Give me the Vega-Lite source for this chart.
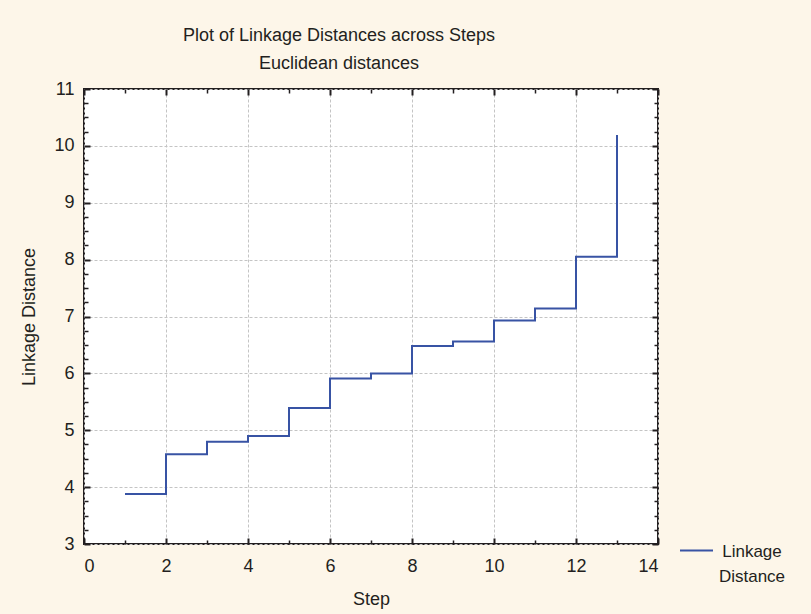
{
  "$schema": "https://vega.github.io/schema/vega-lite/v6.json",
  "width": 574,
  "height": 455,
  "autosize": {"type": "none"},
  "padding": {"left": 84, "top": 89, "right": 153, "bottom": 70},
  "background": "#fdf6e9",
  "title": {
    "text": "Plot of Linkage Distances across Steps",
    "subtitle": "Euclidean distances",
    "anchor": "middle",
    "frame": "group",
    "dx": -32,
    "offset": 7,
    "font": "Liberation Sans",
    "fontSize": 18,
    "fontWeight": "normal",
    "color": "#231f20",
    "subtitleFont": "Liberation Sans",
    "subtitleFontSize": 18,
    "subtitleColor": "#231f20",
    "subtitlePadding": 10
  },
  "config": {
    "view": {"stroke": "#231f20", "strokeWidth": 2, "fill": "white"},
    "axis": {
      "domain": false,
      "labelFont": "Liberation Sans",
      "labelFontSize": 18,
      "labelColor": "#231f20",
      "titleFont": "Liberation Sans",
      "titleFontSize": 18,
      "titleFontWeight": "normal",
      "titleColor": "#231f20",
      "tickColor": "#231f20",
      "tickWidth": 1.5,
      "gridColor": "#c4c4c4",
      "gridDash": [3, 2],
      "gridWidth": 1
    }
  },
  "data": {
    "values": [
      {"step": 1, "dist": 3.88, "series": "Linkage Distance"},
      {"step": 2, "dist": 4.58, "series": "Linkage Distance"},
      {"step": 3, "dist": 4.80, "series": "Linkage Distance"},
      {"step": 4, "dist": 4.90, "series": "Linkage Distance"},
      {"step": 5, "dist": 5.39, "series": "Linkage Distance"},
      {"step": 6, "dist": 5.91, "series": "Linkage Distance"},
      {"step": 7, "dist": 6.00, "series": "Linkage Distance"},
      {"step": 8, "dist": 6.48, "series": "Linkage Distance"},
      {"step": 9, "dist": 6.56, "series": "Linkage Distance"},
      {"step": 10, "dist": 6.93, "series": "Linkage Distance"},
      {"step": 11, "dist": 7.14, "series": "Linkage Distance"},
      {"step": 12, "dist": 8.05, "series": "Linkage Distance"},
      {"step": 13, "dist": 10.19, "series": "Linkage Distance"}
    ]
  },
  "resolve": {"axis": {"x": "independent", "y": "independent"}},
  "layer": [
    {
      "mark": {"type": "line", "interpolate": "step-after", "strokeWidth": 2},
      "encoding": {
        "x": {
          "field": "step", "type": "quantitative",
          "scale": {"domain": [0, 14], "nice": false, "zero": false},
          "axis": {"orient": "bottom", "values": [0, 2, 4, 6, 8, 10, 12, 14], "ticks": false, "grid": true, "labelPadding": 13, "title": "Step", "titlePadding": 15}
        },
        "y": {
          "field": "dist", "type": "quantitative",
          "scale": {"domain": [3, 11], "nice": false, "zero": false},
          "axis": {"orient": "left", "values": [3, 4, 5, 6, 7, 8, 9, 10, 11], "ticks": false, "grid": true, "labelPadding": 10, "title": "Linkage Distance", "titlePadding": 15}
        },
        "color": {
          "field": "series", "type": "nominal",
          "scale": {"range": ["#3853a4"]},
          "legend": {
            "title": null,
            "orient": "none",
            "legendX": 595,
            "legendY": 444,
            "padding": 0,
            "symbolType": "stroke",
            "symbolSize": 1089,
            "symbolStrokeWidth": 2,
            "labelFont": "Liberation Sans",
            "labelFontSize": 17,
            "labelColor": "#231f20",
            "labelAlign": "center",
            "labelBaseline": "alphabetic",
            "labelOffset": 38,
            "labelLimit": 300,
            "labelExpr": "['Linkage', 'Distance']",
            "encode": {"labels": {"update": {"dy": {"value": 6}, "lineHeight": {"value": 25}}}}
          }
        }
      }
    },
    {
      "mark": {"type": "line", "opacity": 0},
      "encoding": {
        "x": {"field": "step", "type": "quantitative", "scale": {"domain": [0, 14], "nice": false, "zero": false},
          "axis": {"orient": "bottom", "values": [0, 2, 4, 6, 8, 10, 12, 14], "labels": false, "grid": false, "tickSize": -6, "tickWidth": 2, "title": null}},
        "y": {"field": "dist", "type": "quantitative", "scale": {"domain": [3, 11], "nice": false, "zero": false},
          "axis": {"orient": "left", "values": [3, 4, 5, 6, 7, 8, 9, 10, 11], "labels": false, "grid": false, "tickSize": -6, "tickWidth": 2, "title": null}}
      }
    },
    {
      "mark": {"type": "line", "opacity": 0},
      "encoding": {
        "x": {"field": "step", "type": "quantitative", "scale": {"domain": [0, 14], "nice": false, "zero": false},
          "axis": {"orient": "bottom", "values": [1, 3, 5, 7, 9, 11, 13], "labels": false, "grid": false, "tickSize": -4, "title": null}},
        "y": {"field": "dist", "type": "quantitative", "scale": {"domain": [3, 11], "nice": false, "zero": false},
          "axis": {"orient": "left", "values": [3.25, 3.5, 3.75, 4.25, 4.5, 4.75, 5.25, 5.5, 5.75, 6.25, 6.5, 6.75, 7.25, 7.5, 7.75, 8.25, 8.5, 8.75, 9.25, 9.5, 9.75, 10.25, 10.5, 10.75], "labels": false, "grid": false, "tickSize": -4, "title": null}}
      }
    },
    {
      "mark": {"type": "line", "opacity": 0},
      "encoding": {
        "x": {"field": "step", "type": "quantitative", "scale": {"domain": [0, 14], "nice": false, "zero": false},
          "axis": {"orient": "top", "values": [0, 2, 4, 6, 8, 10, 12, 14], "labels": false, "grid": false, "tickSize": -6, "tickWidth": 2, "title": null}},
        "y": {"field": "dist", "type": "quantitative", "scale": {"domain": [3, 11], "nice": false, "zero": false},
          "axis": {"orient": "right", "values": [3, 4, 5, 6, 7, 8, 9, 10, 11], "labels": false, "grid": false, "tickSize": -6, "tickWidth": 2, "title": null}}
      }
    },
    {
      "mark": {"type": "line", "opacity": 0},
      "encoding": {
        "x": {"field": "step", "type": "quantitative", "scale": {"domain": [0, 14], "nice": false, "zero": false},
          "axis": {"orient": "top", "values": [1, 3, 5, 7, 9, 11, 13], "labels": false, "grid": false, "tickSize": -4, "title": null}},
        "y": {"field": "dist", "type": "quantitative", "scale": {"domain": [3, 11], "nice": false, "zero": false},
          "axis": {"orient": "right", "values": [3.25, 3.5, 3.75, 4.25, 4.5, 4.75, 5.25, 5.5, 5.75, 6.25, 6.5, 6.75, 7.25, 7.5, 7.75, 8.25, 8.5, 8.75, 9.25, 9.5, 9.75, 10.25, 10.5, 10.75], "labels": false, "grid": false, "tickSize": -4, "title": null}}
      }
    }
  ]
}
